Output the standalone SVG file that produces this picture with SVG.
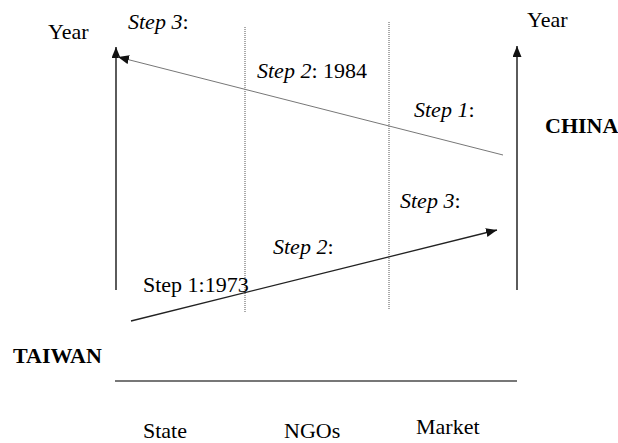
<svg xmlns="http://www.w3.org/2000/svg" width="618" height="443" viewBox="0 0 618 443">
<style>
text{font-family:"Liberation Serif","Times New Roman",serif;font-size:22px;fill:#000}
.i{font-style:italic}
.b{font-weight:bold}
.axis{stroke:#333;stroke-width:1.6;fill:none}
.dot{stroke:#555;stroke-width:1;stroke-dasharray:1,1;fill:none}
.base{stroke:#777;stroke-width:2;fill:none}
.china{stroke:#777;stroke-width:1;fill:none}
.taiwan{stroke:#222;stroke-width:1.3;fill:none}
</style>
<defs>
<marker id="ah" markerUnits="userSpaceOnUse" markerWidth="12" markerHeight="10" refX="11" refY="4.5" orient="auto">
<path d="M0,0 L11,4.5 L0,9 z" fill="#111"/>
</marker>
</defs>
<rect width="618" height="443" fill="#fff"/>
<g id="connectors">
<line class="axis" x1="116" y1="290" x2="116" y2="47" marker-end="url(#ah)"/>
<line class="axis" x1="517" y1="290" x2="517" y2="46" marker-end="url(#ah)"/>
<line class="dot" x1="245" y1="27" x2="245" y2="312"/>
<line class="dot" x1="389" y1="22" x2="389" y2="310"/>
<line class="china" x1="503" y1="155" x2="118" y2="57" marker-end="url(#ah)"/>
<line class="taiwan" x1="131" y1="321" x2="497" y2="230" marker-end="url(#ah)"/>
<line class="base" x1="115" y1="381" x2="517" y2="381"/>
</g>
<g id="labels">
<text id="year-left" x="48" y="39">Year</text>
<text id="year-right" x="527" y="27">Year</text>
<text id="china" class="b" x="545" y="133">CHINA</text>
<text id="taiwan" class="b" x="13" y="363">TAIWAN</text>
<text id="china-step3" x="128" y="29"><tspan class="i">Step 3</tspan>:</text>
<text id="china-step2" x="257" y="78"><tspan class="i">Step 2</tspan>: 1984</text>
<text id="china-step1" x="414" y="117"><tspan class="i">Step 1</tspan>:</text>
<text id="taiwan-step3" x="400" y="208"><tspan class="i">Step 3</tspan>:</text>
<text id="taiwan-step2" x="273" y="254"><tspan class="i">Step 2</tspan>:</text>
<text id="taiwan-step1" x="143" y="292">Step 1:1973</text>
<text id="state" x="143" y="438">State</text>
<text id="ngos" x="284" y="438">NGOs</text>
<text id="market" x="416" y="434">Market</text>
</g>
</svg>
